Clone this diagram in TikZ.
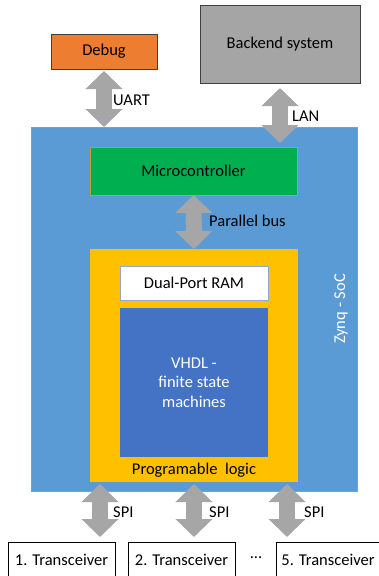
\documentclass[tikz,border=0pt]{standalone}
\usepackage{fontspec}
\setmainfont{Carlito}
\usetikzlibrary{arrows.meta,calc,positioning}
\definecolor{orng}{HTML}{ED7D31}
\definecolor{gry}{HTML}{A5A5A5}
\definecolor{socblue}{HTML}{5B9BD5}
\definecolor{socborder}{HTML}{6FA3D6}
\definecolor{mcgreen}{HTML}{00B050}
\definecolor{mcborder}{HTML}{BF9F30}
\definecolor{plyellow}{HTML}{FFC000}
\definecolor{vhdlblue}{HTML}{4472C4}
\definecolor{ramborder}{HTML}{8FAACC}
\definecolor{arrowgray}{HTML}{A6A6A6}
\tikzset{
  box/.style={rectangle, inner sep=0pt, outer sep=0pt, font=\fontsize{16.5}{19.5}\selectfont},
  lbl/.style={inner sep=0pt, anchor=west, font=\fontsize{16.5}{19.5}\selectfont},
  bus/.style={draw=arrowgray, line width=16pt,
    {Triangle[width=36pt,length=18pt]}-{Triangle[width=36pt,length=18pt]}},
}
\begin{document}
\begin{tikzpicture}[x=1pt,y=-1pt]
\useasboundingbox (0,0) rectangle (379,576);
% boxes
\node[box, draw=black!75, fill=orng, minimum width=106pt, minimum height=35pt] (debug) at (104,51.5) {Debug};
\node[box, draw=black!75, fill=gry, minimum width=160pt, minimum height=78pt] (backend) at (280,44) {Backend system};
\node[box, draw=socborder, fill=socblue, minimum width=326pt, minimum height=364pt] (soc) at (194,309) {};
\node[box, draw=mcborder, fill=mcgreen, minimum width=207pt, minimum height=48pt] (mc) at (193.5,171) {Microcontroller};
\node[box, draw=none, fill=plyellow, minimum width=208pt, minimum height=233pt] (pl) at (194,365.5) {};
\node[box, draw=ramborder, fill=white, minimum width=148pt, minimum height=34pt] (ram) at (194,283) {Dual-Port RAM};
\node[box, draw=none, fill=vhdlblue, minimum width=148pt, minimum height=149pt, text=white, align=center] (vhdl) at (194,382.5) {VHDL -\\finite state\\machines};
\node[box] (pllabel) at (194,470) {Programable~ logic};
\node[box, text=white, rotate=90] (zynq) at (341,309) {Zynq - SoC};
\node[box, draw=black, fill=white, minimum width=107pt, minimum height=36pt] (t1) at (61.5,560) {1. Transceiver};
\node[box, draw=black, fill=white, minimum width=107pt, minimum height=36pt] (t2) at (181.5,560) {2. Transceiver};
\node[box, draw=black, fill=white, minimum width=104pt, minimum height=36pt] (t5) at (328,560) {5. Transceiver};
\node[box] (dots) at (256,558) {...};
% connectors
\coordinate (uartA) at (debug.south |- 0,71);
\coordinate (uartB) at (debug.south |- soc.north);
\draw[bus] (uartA) -- (uartB);
\coordinate (lanA) at ($(backend.south)+(0,5)$);
\coordinate (lanB) at ($(backend.south |- mc.north)+(0,-4)$);
\draw[bus] (lanA) -- (lanB);
\draw[bus] (mc.south) -- (pl.north);
\coordinate (s1A) at ($(pl.south west)+(10,2)$);
\coordinate (s2A) at ($(pl.south)+(0,2)$);
\coordinate (s3A) at ($(pl.south east)+(-11,2)$);
\draw[bus] (s1A) -- ($(s1A |- t1.north)+(0,-5)$);
\draw[bus] (s2A) -- ($(s2A |- t2.north)+(0,-5)$);
\draw[bus] (s3A) -- ($(s3A |- t5.north)+(0,-5)$);
% labels
\node[lbl] (uart) at (113,100) {UART};
\node[lbl] (lan) at (292,116) {LAN};
\node[lbl] (pbus) at (209,221) {Parallel bus};
\node[lbl] (spi1) at (113,512) {SPI};
\node[lbl] (spi2) at (209,512) {SPI};
\node[lbl] (spi3) at (304,512) {SPI};
\end{tikzpicture}
\end{document}
